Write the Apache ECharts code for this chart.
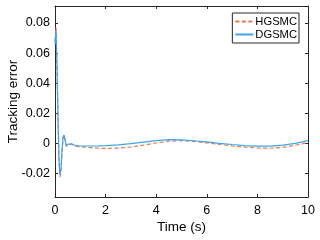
<!DOCTYPE html>
<html>
<head>
<meta charset="utf-8">
<script src="https://cdn.jsdelivr.net/npm/echarts@6/dist/echarts.min.js"></script>
<style>html,body{margin:0;padding:0;background:#fff;}#c{width:320px;height:240px;}</style>
</head>
<body>
<div id="c"></div>
<script>
var time = [0, 0.04, 0.08, 0.12, 0.16, 0.2, 0.24, 0.28, 0.32, 0.36, 0.4, 0.45, 0.5, 0.55, 0.6, 0.65, 0.7, 0.8, 0.9, 1.0, 1.25, 1.5, 1.75, 2, 2.5, 3, 3.5, 4, 4.5, 5, 5.5, 6, 6.5, 7, 7.5, 8, 8.5, 9, 9.5, 10];
var hgsmc = [0.068, 0.077, 0.052, 0.016, -0.013, -0.0225, -0.018, -0.005, 0.004, 0.0055, 0.002, -0.002, -0.0028, -0.001, -0.0002, -0.0005, -0.0012, -0.0018, -0.002, -0.0022, -0.0026, -0.003, -0.0033, -0.0034, -0.0032, -0.0024, -0.0012, 0.0002, 0.0015, 0.0018, 0.0012, 0.0003, -0.0008, -0.0017, -0.0025, -0.0031, -0.0033, -0.0027, -0.0013, 0.0005];
var dgsmc = [0.066, 0.075, 0.05, 0.015, -0.012, -0.021, -0.016, -0.004, 0.004, 0.0055, 0.002, -0.0015, -0.002, -0.0005, 0.0, -0.0003, -0.001, -0.0015, -0.0017, -0.0018, -0.0018, -0.0018, -0.0017, -0.0015, -0.001, -0.0002, 0.0008, 0.0018, 0.0025, 0.0023, 0.0017, 0.0009, 0.0, -0.0008, -0.0015, -0.0019, -0.0019, -0.0012, 0.0, 0.0018];
var seriesNames = ['HGSMC', 'DGSMC'];
var xLabel = 'Time (s)';
var yLabel = 'Tracking error';

function pairs(xs, ys) { return xs.map(function (x, i) { return [x, ys[i]]; }); }

var axisCol = '#262626';
var font = 'Liberation Sans, Arial, sans-serif';
var chart = echarts.init(document.getElementById('c'), null, { renderer: 'canvas' });
chart.setOption({
  animation: false,
  backgroundColor: '#fff',
  grid: { left: 55, right: 12, top: 6, bottom: 43, containLabel: false, outerBoundsMode: 'none' },
  legend: {
    orient: 'vertical', right: 21, top: 13,
    backgroundColor: '#fff', borderColor: axisCol, borderWidth: 1,
    padding: [3, 2, 3, 2], itemWidth: 18, itemHeight: 12, itemGap: 2,
    itemStyle: { opacity: 0 },
    textStyle: { fontFamily: font, fontSize: 11.2, color: '#000', padding: [0, 0, 0, -3] },
    data: seriesNames
  },
  xAxis: [{
    type: 'value', min: 0, max: 10, interval: 2,
    name: xLabel, nameLocation: 'middle', nameGap: 23, nameMoveOverlap: false,
    nameTextStyle: { fontFamily: font, fontSize: 13.5, color: '#000' },
    axisLine: { onZero: false, lineStyle: { color: axisCol, width: 1 } },
    axisTick: { inside: true, length: 3, lineStyle: { color: axisCol } },
    axisLabel: { fontFamily: font, fontSize: 12.5, color: '#000', margin: 7 },
    splitLine: { show: false }
  }, {
    type: 'value', min: 0, max: 10, interval: 2, position: 'top',
    axisLine: { onZero: false, lineStyle: { color: axisCol, width: 1 } },
    axisTick: { inside: true, length: 3, lineStyle: { color: axisCol } },
    axisLabel: { show: false }, splitLine: { show: false }
  }],
  yAxis: [{
    type: 'value', min: -0.0357, max: 0.0913, splitNumber: 6,
    name: yLabel, nameLocation: 'middle', nameGap: 35, nameMoveOverlap: false,
    nameTextStyle: { fontFamily: font, fontSize: 13.5, color: '#000' },
    axisLine: { show: true, onZero: false, lineStyle: { color: axisCol, width: 1 } },
    axisTick: { show: true, inside: true, length: 3, lineStyle: { color: axisCol } },
    axisLabel: { fontFamily: font, fontSize: 12.5, color: '#000', margin: 5, showMinLabel: false, showMaxLabel: false },
    splitLine: { show: false }
  }, {
    type: 'value', min: -0.0357, max: 0.0913, splitNumber: 6, position: 'right',
    axisLine: { show: true, onZero: false, lineStyle: { color: axisCol, width: 1 } },
    axisTick: { show: true, inside: true, length: 3, lineStyle: { color: axisCol } },
    axisLabel: { show: false }, splitLine: { show: false }
  }],
  series: [{
    name: seriesNames[0], type: 'line', data: pairs(time, hgsmc), symbol: 'none',
    lineStyle: { color: '#E8774A', width: 1.2, type: [4, 2.5] },
    itemStyle: { color: '#E8774A' }, z: 2
  }, {
    name: seriesNames[1], type: 'line', data: pairs(time, dgsmc), symbol: 'none',
    lineStyle: { color: '#3DA5F0', width: 1.2 },
    itemStyle: { color: '#3DA5F0' }, z: 3
  }]
});
</script>
</body>
</html>
